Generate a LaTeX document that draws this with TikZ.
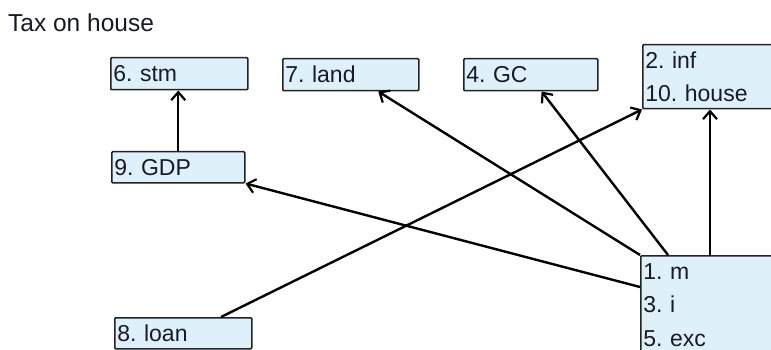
\documentclass[tikz,border=0pt]{standalone}
\usepackage{fontspec}
\setmainfont{Liberation Sans}
\usetikzlibrary{arrows.meta,calc}
\definecolor{boxfill}{RGB}{222,241,251}
\definecolor{boxline}{RGB}{35,35,35}
\definecolor{ink}{RGB}{25,25,40}
\frenchspacing
\begin{document}
\begin{tikzpicture}[x=1pt,y=-1pt,
  var/.style={draw=boxline, line width=1.5pt, fill=boxfill, rounded corners=1pt,
    anchor=north west, inner xsep=2.5pt, inner ysep=0pt, align=left, text=ink,
    font=\fontsize{23}{33.5}\selectfont},
  link/.style={line width=2.4pt, -{Straight Barb[length=8pt,width=14pt,line width=2.2pt]}}]
\useasboundingbox (0,0) rectangle (771,350);
\fill[white] (0,0) rectangle (771,350);
\clip (0,0) rectangle (771,350);

% title
\node[anchor=base west, inner sep=0pt, text=ink, font=\fontsize{24.5}{28}\selectfont] (title) at (8,32) {Tax on house};

% variable boxes
\node[var, text width=132pt, minimum height=32pt] (stm)   at (110,57)  {6. stm};
\node[var, text width=131pt, minimum height=32pt] (land)  at (282,58)  {7. land};
\node[var, text width=129pt, minimum height=32pt] (gc)    at (463,58)  {4. GC};
\node[var, text width=150pt, minimum height=64pt] (house) at (642,44)  {2. inf\\10. house};
\node[var, text width=128pt, minimum height=31pt] (gdp)   at (111,151) {9. GDP};
\node[var, text width=132pt, minimum height=31pt] (loan)  at (114,317) {8. loan};
\node[var, text width=155pt, minimum height=98pt] (m)     at (640,255) {1. m\\3. i\\5. exc};

% attachment points
\coordinate (landin) at ($(land.south west)!0.70!(land.south east)$);
\coordinate (gcin)   at ($(gc.south west)!0.58!(gc.south east)$);
\coordinate (mgc)    at ($(m.north west)+(28,0)$);
\coordinate (mh)     at ($(m.north west)+(70,0)$);
\coordinate (mg)     at ($(m.north west)+(0,32)$);
\coordinate (lo)     at ($(loan.north west)+(107,0)$);

% links
\draw[link] (gdp.north) -- (gdp.north |- stm.south);
\draw[link] (m.north west) -- (landin);
\draw[link] (mgc) -- (gcin);
\draw[link] (mh) -- (mh |- house.south);
\draw[link] (mg) -- (gdp.south east);
\draw[link] (lo) -- (house.south west);
\end{tikzpicture}
\end{document}
